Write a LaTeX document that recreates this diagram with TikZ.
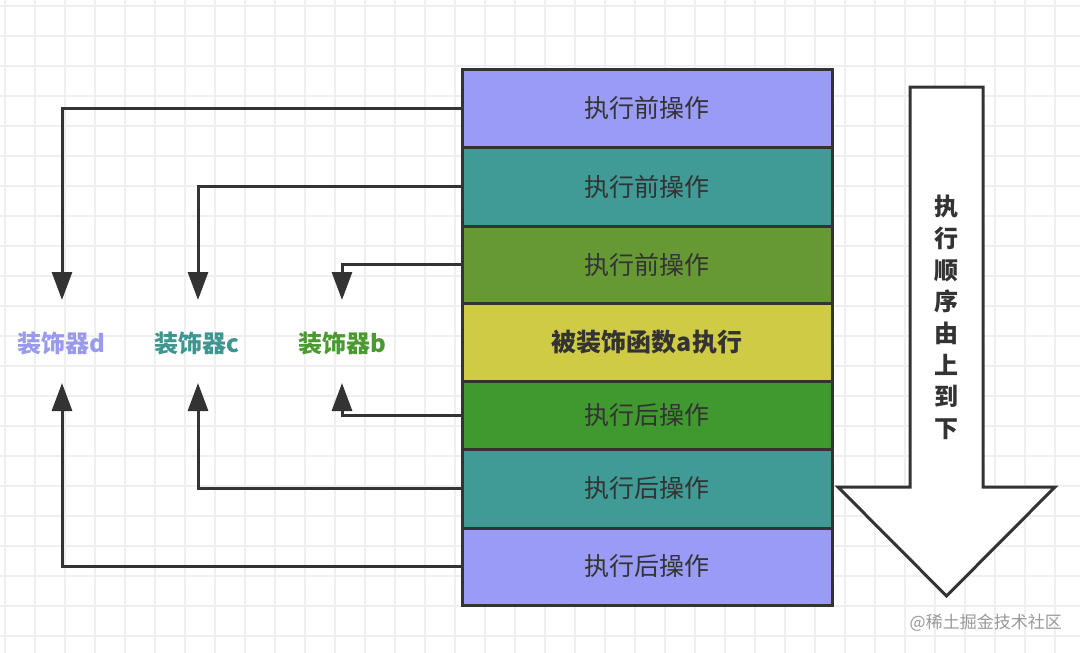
\documentclass[tikz,border=0pt]{standalone}
\usepackage{fontspec}
\setmainfont{Noto Sans CJK SC}
\usetikzlibrary{arrows.meta}
\definecolor{cpurple}{HTML}{9A9AF7}
\definecolor{cteal}{HTML}{409A96}
\definecolor{colive}{HTML}{669933}
\definecolor{cyellow}{HTML}{D0CB45}
\definecolor{cgreen}{HTML}{40992E}
\definecolor{cline}{HTML}{333333}
\definecolor{cgrid}{HTML}{EFEFEF}
\definecolor{ld}{HTML}{9999EE}
\definecolor{lc}{HTML}{3D968F}
\definecolor{lb}{HTML}{4A9A30}
\tikzset{
  rowbox/.style={draw=cline, line width=3pt, minimum width=370pt, inner sep=0pt,
    text=cline, font=\fontsize{25}{29}\selectfont},
  conn/.style={draw=cline, line width=3pt, -{Triangle[width=20pt,length=28pt]}},
  deco/.style={font=\bfseries\fontsize{24}{28}\selectfont, inner sep=0pt},
}
\begin{document}
\begin{tikzpicture}[x=1pt,y=-1pt]
\useasboundingbox (0,0) rectangle (1080,653);
\fill[white] (0,0) rectangle (1080,653);
% grid
\foreach \i in {0,...,35} {\draw[cgrid, line width=1.5pt] (5+30*\i,0) -- (5+30*\i,653);}
\foreach \j in {0,...,21} {\draw[cgrid, line width=1.5pt] (0,6+30*\j) -- (1080,6+30*\j);}
% rows
\node[rowbox, fill=cpurple, minimum height=78pt] (r1) at (647,108) {执行前操作};
\node[rowbox, fill=cteal, minimum height=79pt] (r2) at (647,186.5) {执行前操作};
\node[rowbox, fill=colive, minimum height=77pt] (r3) at (647,264.5) {执行前操作};
\node[rowbox, fill=cyellow, minimum height=78pt, font=\bfseries\fontsize{25}{29}\selectfont] (r4) at (647,342) {被装饰函数a执行};
\node[rowbox, fill=cgreen, minimum height=68pt] (r5) at (647,415) {执行后操作};
\node[rowbox, fill=cteal, minimum height=79pt] (r6) at (647,488.5) {执行后操作};
\node[rowbox, fill=cpurple, minimum height=77pt] (r7) at (647,566.5) {执行后操作};
% labels
\node[deco, text=ld] (dd) at (61,343) {装饰器d};
\node[deco, text=lc] (dc) at (197,343) {装饰器c};
\node[deco, text=lb] (db) at (342,343) {装饰器b};
% arrow end points
\coordinate (td) at (62,300);
\coordinate (tc) at (198,300);
\coordinate (tb) at (342,300);
\coordinate (bd) at (62,383);
\coordinate (bc) at (198,383);
\coordinate (bb) at (342,383);
\draw[conn] (r1.west) -| (td);
\draw[conn] (r2.west) -| (tc);
\draw[conn] (r3.west) -| (tb);
\draw[conn] (r5.west) -| (bb);
\draw[conn] (r6.west) -| (bc);
\draw[conn] (r7.west) -| (bd);
% big arrow
\draw[cline, line width=3pt, fill=white, line join=miter]
  (910,87) -- (983,87) -- (983,487) -- (1055,487) -- (946.5,596) -- (838,487) -- (910,487) -- cycle;
\node[font=\bfseries\fontsize{24}{31.7}\selectfont, text=cline, align=center, inner sep=0pt, anchor=north] (order) at (946.5,195)
  {执\\行\\顺\\序\\由\\上\\到\\下};
% watermark
\node[font=\fontsize{17}{20}\selectfont, text=black!40, anchor=east, inner sep=0pt] (wm) at (1062,623) {@稀土掘金技术社区};
\end{tikzpicture}
\end{document}
